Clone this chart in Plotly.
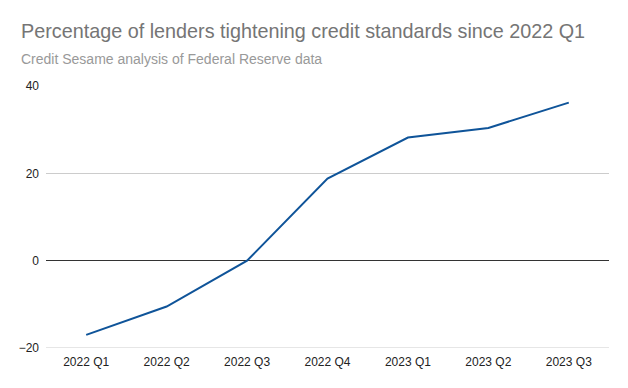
import plotly.graph_objects as go

quarters = ["2022 Q1", "2022 Q2", "2022 Q3", "2022 Q4", "2023 Q1", "2023 Q2", "2023 Q3"]
pct_tightening = [-17, -10.5, 0, 18.8, 28.2, 30.4, 36.2]
y_ticks = [-20, 0, 20, 40]

fig = go.Figure()
fig.add_trace(go.Scatter(
    x=quarters, y=pct_tightening, mode="lines",
    line=dict(color="#0f5499", width=2), hoverinfo="x+y", showlegend=False,
))

fig.update_layout(
    width=628, height=388,
    margin=dict(l=46, r=19, t=86, b=40, autoexpand=False),
    paper_bgcolor="white", plot_bgcolor="white",
    font=dict(family="Liberation Sans, Arial, sans-serif", size=12, color="#222222"),
    annotations=[
        dict(text="Percentage of lenders tightening credit standards since 2022 Q1",
             xref="paper", yref="paper", x=(19 - 46) / 563, y=1 + 42 / 262,
             xanchor="left", yanchor="bottom", showarrow=False,
             font=dict(size=19.8, color="#757575")),
        dict(text="Credit Sesame analysis of Federal Reserve data",
             xref="paper", yref="paper", x=(19 - 46) / 563, y=1 + 17 / 262,
             xanchor="left", yanchor="bottom", showarrow=False,
             font=dict(size=14, color="#999999")),
    ],
    xaxis=dict(
        type="category", range=[-0.5, 6.5], showgrid=False,
        showline=False, ticks="", ticklabelstandoff=5,
        tickfont=dict(size=12, color="#222222"),
    ),
    yaxis=dict(
        range=[-20, 40], tickvals=y_ticks, showgrid=True, gridcolor="#cccccc",
        gridwidth=1, zeroline=True, zerolinecolor="#333333", zerolinewidth=1,
        showline=False, ticks="", ticklabelstandoff=6,
        tickfont=dict(size=12, color="#222222"),
    ),
    shapes=[dict(type="line", xref="paper", yref="y", x0=0, x1=1, y0=-20, y1=-20,
                 line=dict(color="#cccccc", width=1), layer="below")],
)
fig.write_html("out.html", config={"displayModeBar": False},
               post_script="document.body.style.margin='0';")
